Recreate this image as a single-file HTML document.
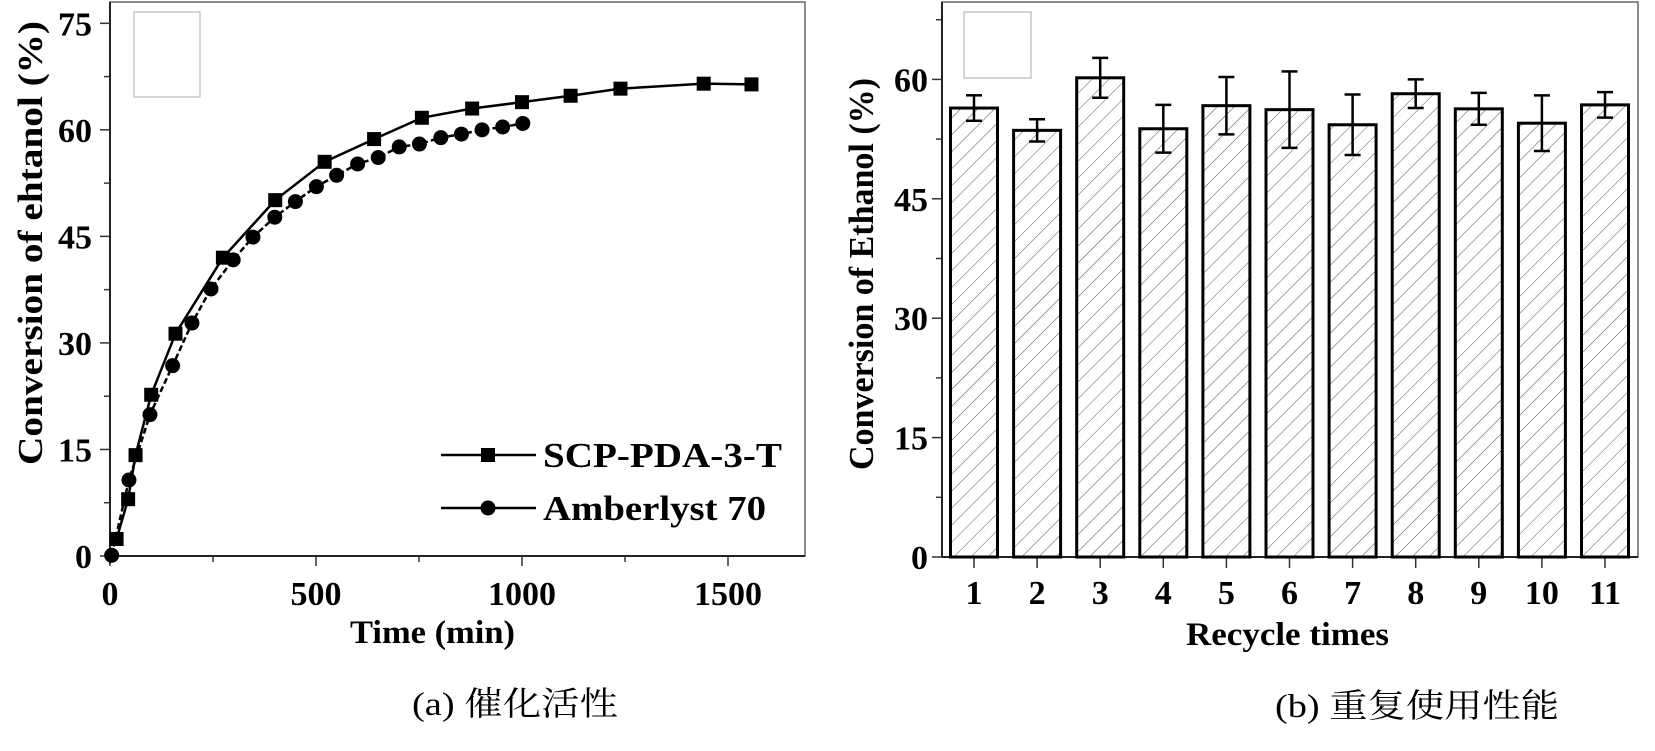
<!DOCTYPE html>
<html><head><meta charset="utf-8"><style>
html,body{margin:0;padding:0;background:#fff}
svg{display:block}
text{font-family:"Liberation Serif","Noto Serif CJK SC",serif}
.b{font-weight:bold}
</style></head><body>
<svg id="s" width="1655" height="751" viewBox="0 0 1655 751" xmlns="http://www.w3.org/2000/svg">
<defs>
<pattern id="hatch" patternUnits="userSpaceOnUse" width="12" height="12" patternTransform="rotate(45)">
<line x1="0" y1="0" x2="0" y2="12" stroke="#555" stroke-width="1"/>
</pattern>
</defs>
<g id="left"></g>
<g id="right"></g>
<text x="412" y="715" font-size="33" textLength="206" lengthAdjust="spacingAndGlyphs">(a)  催化活性</text>
<text x="1275" y="717" font-size="33" textLength="284" lengthAdjust="spacingAndGlyphs">(b)  重复使用性能</text>
</svg>
<script>
// Left chart data
const scpTime = [16,44,62,100,159,274,401,521,641,757,879,1000,1118,1239,1441,1557];
const scpConv = [2.4,8.0,14.2,22.7,31.3,42.0,50.1,55.5,58.7,61.7,63.0,63.9,64.8,65.8,66.5,66.4];
const ambTime = [4,46,97,152,199,245,299,347,400,450,501,550,601,651,702,751,803,853,903,953,1002];
const ambConv = [0.1,10.7,19.9,26.8,32.8,37.6,41.7,44.9,47.7,49.9,52.0,53.6,55.2,56.1,57.6,58.0,58.9,59.4,60.0,60.4,60.9];
const leftXTicks = [0,500,1000,1500];
const leftYTicks = [0,15,30,45,60,75];
// Right chart data
const recycleCats = ["1","2","3","4","5","6","7","8","9","10","11"];
const recycleVals = [56.4,53.6,60.2,53.8,56.7,56.2,54.3,58.2,56.3,54.5,56.8];
const recycleErr = [1.6,1.4,2.5,3.0,3.6,4.8,3.8,1.8,2.0,3.5,1.6];
const rightYTicks = [0,15,30,45,60];

const NS="http://www.w3.org/2000/svg";
function mk(parent,tag,attrs,txt){const e=document.createElementNS(NS,tag);for(const k in attrs)e.setAttribute(k,attrs[k]);if(txt!==undefined)e.textContent=txt;parent.appendChild(e);return e;}

// ---------- Left chart ----------
const L=document.getElementById('left');
const lx0=110,lx1=805,ly0=556,ly1=2;
const lxMax=(lx1-lx0)/0.412, lyMax=78;
const X=v=>lx0+v*(lx1-lx0)/lxMax;
const Y=v=>ly0-v*(ly0-ly1)/lyMax;
let e;
e=mk(L,'rect',{x:lx0,y:ly1,width:lx1-lx0,height:ly0-ly1,fill:'none',stroke:'#666','stroke-width':1.5});

e=mk(L,'line',{x1:lx0,y1:ly0,x2:lx1,y2:ly0,stroke:'#222','stroke-width':2});

e=mk(L,'line',{x1:lx0,y1:ly0+8,x2:lx0,y2:ly1,stroke:'#222','stroke-width':2});

for(let v=0;v<=lxMax;v+=250){const maj=v%500===0;
 e=mk(L,'line',{x1:X(v),y1:ly0,x2:X(v),y2:ly0+(maj?10:6),stroke:'#333','stroke-width':1.5});
 }
leftXTicks.forEach(v=>{e=mk(L,'text',{x:X(v),y:605,'font-size':34,'text-anchor':'middle',class:'b'},String(v));
 });
for(let v=0;v<=75;v+=7.5){const maj=v%15===0;
 e=mk(L,'line',{x1:lx0,y1:Y(v),x2:lx0-(maj?10:6),y2:Y(v),stroke:'#333','stroke-width':1.5});
 }
leftYTicks.forEach(v=>{e=mk(L,'text',{x:92,y:Y(v)+12,'font-size':34,'text-anchor':'end',class:'b'},String(v));
 });
e=mk(L,'text',{x:350,y:643,'font-size':33,class:'b',textLength:165,lengthAdjust:'spacingAndGlyphs'},'Time (min)');

e=mk(L,'text',{x:0,y:0,'font-size':35,class:'b',textLength:444,lengthAdjust:'spacingAndGlyphs',transform:'translate(42,465) rotate(-90)'},'Conversion of ehtanol (%)');

e=mk(L,'rect',{x:134,y:12,width:66,height:85,fill:'none',stroke:'#bbb','stroke-width':1.2});

// series
e=mk(L,'polyline',{points:ambTime.map((t,i)=>X(t)+','+Y(ambConv[i])).join(' '),fill:'none',stroke:'#000','stroke-width':2.5,'stroke-dasharray':'6,3'});

ambTime.forEach((t,i)=>{e=mk(L,'circle',{cx:X(t),cy:Y(ambConv[i]),r:7.5,fill:'#000'});
 });
e=mk(L,'polyline',{points:scpTime.map((t,i)=>X(t)+','+Y(scpConv[i])).join(' '),fill:'none',stroke:'#000','stroke-width':2.5});

scpTime.forEach((t,i)=>{e=mk(L,'rect',{x:X(t)-7,y:Y(scpConv[i])-7,width:14,height:14,fill:'#000'});
 });
// legend
const lg=mk(L,'g',{});

[['SCP-PDA-3-T',455,'sq',239],['Amberlyst 70',508,'ci',223]].forEach(([lab,yy,m,w])=>{
 const g=mk(lg,'g',{});
 
 mk(g,'line',{x1:441,y1:yy,x2:536,y2:yy,stroke:'#000','stroke-width':2.5});
 if(m==='sq')mk(g,'rect',{x:481,y:yy-7,width:14,height:14,fill:'#000'});
 else mk(g,'circle',{cx:488,cy:yy,r:7.5,fill:'#000'});
 mk(g,'text',{x:543,y:yy+12,'font-size':35,class:'b',textLength:w,lengthAdjust:'spacingAndGlyphs'},lab);
});

// ---------- Right chart ----------
const R=document.getElementById('right');
const rx0=942,rx1=1638,ry0=557,ry1=2;
const ryScale=119.4/15;
const RY=v=>ry0-v*ryScale;
const RX=i=>974+i*63.1;
e=mk(R,'rect',{x:rx0,y:ry1,width:rx1-rx0,height:ry0-ry1,fill:'none',stroke:'#666','stroke-width':1.5});

e=mk(R,'line',{x1:rx0,y1:ry0,x2:rx1,y2:ry0,stroke:'#222','stroke-width':2});

e=mk(R,'line',{x1:rx0,y1:ry0,x2:rx0,y2:ry1,stroke:'#222','stroke-width':2});

for(let v=0;v<=67.5;v+=7.5){const maj=v%15===0;
 e=mk(R,'line',{x1:rx0,y1:RY(v),x2:rx0-(maj?10:6),y2:RY(v),stroke:'#333','stroke-width':1.5});
 }
rightYTicks.forEach(v=>{e=mk(R,'text',{x:928,y:RY(v)+12,'font-size':34,'text-anchor':'end',class:'b'},String(v));
 });
e=mk(R,'text',{x:0,y:0,'font-size':35,class:'b',textLength:392,lengthAdjust:'spacingAndGlyphs',transform:'translate(873,470) rotate(-90)'},'Conversion of Ethanol (%)');

e=mk(R,'text',{x:1186,y:645,'font-size':33,class:'b',textLength:203,lengthAdjust:'spacingAndGlyphs'},'Recycle times');

e=mk(R,'rect',{x:964,y:12,width:67,height:66,fill:'none',stroke:'#bbb','stroke-width':1.2});

recycleCats.forEach((c,i)=>{
 const cx=RX(i);
 e=mk(R,'line',{x1:cx,y1:ry0,x2:cx,y2:ry0+11,stroke:'#333','stroke-width':1.5});
 
 e=mk(R,'text',{x:cx,y:604,'font-size':34,'text-anchor':'middle',class:'b'},c);
 
 const v=recycleVals[i];
 e=mk(R,'rect',{x:cx-23.5,y:RY(v),width:47,height:ry0-RY(v),fill:'url(#hatch)',stroke:'#000','stroke-width':3});
 
 const er=recycleErr[i];
 const g=mk(R,'g',{stroke:'#000','stroke-width':2.5});
 
 mk(g,'line',{x1:cx,y1:RY(v+er),x2:cx,y2:RY(v-er)});
 mk(g,'line',{x1:cx-8,y1:RY(v+er),x2:cx+8,y2:RY(v+er)});
 mk(g,'line',{x1:cx-8,y1:RY(v-er),x2:cx+8,y2:RY(v-er)});
});
</script>
</body></html>
